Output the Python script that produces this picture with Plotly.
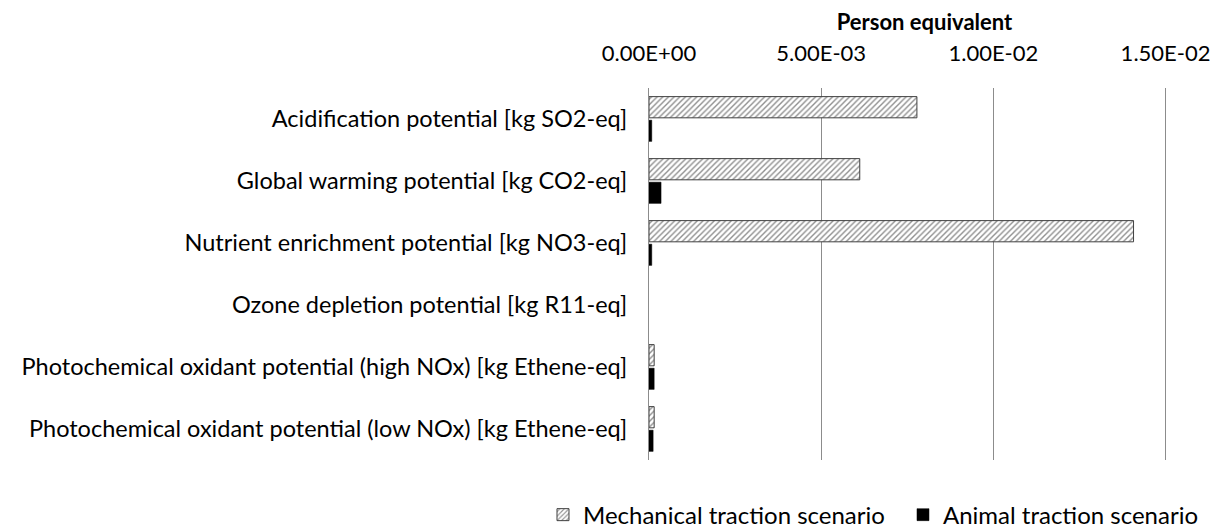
import plotly.graph_objects as go

categories = [
    "Acidification potential [kg SO2-eq]",
    "Global warming potential [kg CO2-eq]",
    "Nutrient enrichment potential [kg NO3-eq]",
    "Ozone depletion potential [kg R11-eq]",
    "Photochemical oxidant potential (high NOx) [kg Ethene-eq]",
    "Photochemical oxidant potential (low NOx) [kg Ethene-eq]",
]
mechanical = [7.78e-3, 6.12e-3, 1.407e-2, 0.0, 1.5e-4, 1.5e-4]
animal = [8e-5, 3.5e-4, 8e-5, 0.0, 1.5e-4, 1.2e-4]
tick_vals = [0, 0.005, 0.01, 0.015]
tick_text = ["0.00E+00", "5.00E-03", "1.00E-02", "1.50E-02"]

FONT = "Lato"

fig = go.Figure()
fig.add_trace(go.Bar(
    y=categories, x=mechanical, orientation="h",
    name="Mechanical traction scenario",
    marker=dict(color="white",
                line=dict(color="#404040", width=[1 if v > 0 else 0 for v in mechanical]),
                pattern=dict(shape="/", fgcolor="#202020", bgcolor="white",
                             size=4, solidity=0.35)),
))
fig.add_trace(go.Bar(
    y=categories, x=animal, orientation="h",
    name="Animal traction scenario",
    marker=dict(color="black", line=dict(color="black", width=[0.5 if v > 0 else 0 for v in animal])),
))

fig.update_layout(
    width=1225, height=530,
    paper_bgcolor="white", plot_bgcolor="white",
    margin=dict(l=641, r=33, t=80, b=78, autoexpand=False),
    barmode="group", bargap=0.24, bargroupgap=0.1,
    font=dict(family=FONT, size=23, color="black"),
    legend=dict(orientation="h", xref="paper", yref="paper",
                x=-0.1924, xanchor="left", y=-0.148, yanchor="middle",
                entrywidth=315, entrywidthmode="pixels",
                font=dict(size=24), traceorder="normal"),
    showlegend=True,
)
fig.update_xaxes(
    side="top", range=[0, 0.016], tickvals=tick_vals, ticktext=tick_text,
    showgrid=True, gridcolor="#8c8c8c", gridwidth=1,
    zeroline=False, showline=False, ticks="",
    tickfont=dict(size=22), ticklabelstandoff=22,
    title=dict(text="<b>Person equivalent</b>", font=dict(size=22), standoff=8),
)
fig.update_yaxes(
    autorange="reversed", showline=True, linecolor="#8c8c8c", linewidth=1,
    ticks="", showgrid=False, tickfont=dict(size=23.5), ticklabelstandoff=16,
)

fig.write_html("out.html")
